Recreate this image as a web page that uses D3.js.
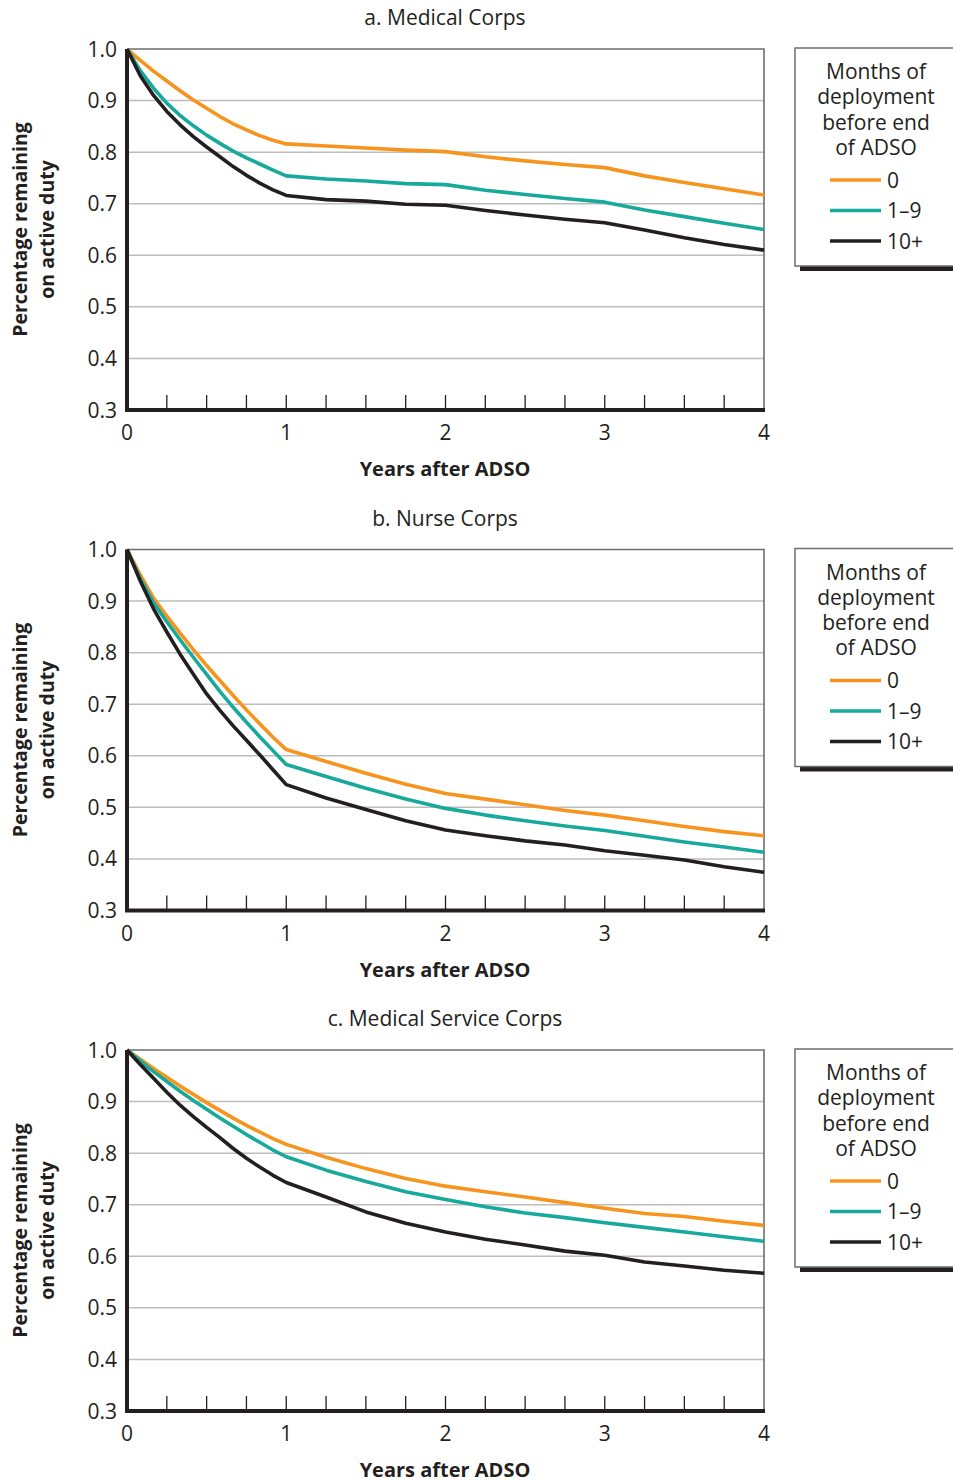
<!DOCTYPE html>
<html>
<head>
<meta charset="utf-8">
<script src="https://cdn.jsdelivr.net/npm/d3@7"></script>
<style>
  body { margin: 0; background: #fff; }
  svg { display: block; }
  text { font-family: "Open Sans", "Noto Sans", sans-serif; fill: #231F20; }
</style>
</head>
<body>
<svg id="chart" width="953" height="1482"></svg>
<script>
// ---- Data ----
// monthly through year 1, quarterly afterwards
const years = [0, 1/12, 2/12, 3/12, 4/12, 5/12, 6/12, 7/12, 8/12, 9/12, 10/12, 11/12, 1,
               1.25, 1.5, 1.75, 2, 2.25, 2.5, 2.75, 3, 3.25, 3.5, 3.75, 4];
const panelTitles = ["a. Medical Corps", "b. Nurse Corps", "c. Medical Service Corps"];
const seriesNames = ["0", "1\u20139", "10+"];
const seriesColors = ["#F7941D", "#17A99B", "#231F20"];
const yTicks = [0.3, 0.4, 0.5, 0.6, 0.7, 0.8, 0.9, 1.0];
const xTickLabels = [0, 1, 2, 3, 4];
const minorTicks = [0.25, 0.5, 0.75, 1, 1.25, 1.5, 1.75, 2, 2.25, 2.5, 2.75, 3, 3.25, 3.5, 3.75];

// Panel a: Medical Corps
const medical0   = [1.0, 0.978, 0.957, 0.938, 0.919, 0.901, 0.885, 0.869, 0.855, 0.843, 0.832, 0.823, 0.816,
                    0.812, 0.808, 0.804, 0.801, 0.791, 0.783, 0.776, 0.770, 0.754, 0.741, 0.729, 0.717];
const medical1_9 = [1.0, 0.958, 0.924, 0.895, 0.871, 0.851, 0.833, 0.817, 0.802, 0.789, 0.777, 0.765, 0.754,
                    0.748, 0.744, 0.739, 0.737, 0.726, 0.718, 0.710, 0.703, 0.688, 0.675, 0.662, 0.650];
const medical10  = [1.0, 0.948, 0.910, 0.879, 0.853, 0.830, 0.810, 0.791, 0.772, 0.755, 0.740, 0.727, 0.716,
                    0.708, 0.705, 0.699, 0.697, 0.687, 0.678, 0.670, 0.663, 0.649, 0.634, 0.621, 0.610];
// Panel b: Nurse Corps
const nurse0   = [1.0, 0.951, 0.906, 0.871, 0.838, 0.806, 0.775, 0.746, 0.717, 0.689, 0.662, 0.636, 0.612,
                  0.589, 0.566, 0.545, 0.527, 0.516, 0.505, 0.494, 0.485, 0.474, 0.463, 0.453, 0.445];
const nurse1_9 = [1.0, 0.944, 0.897, 0.860, 0.825, 0.791, 0.758, 0.725, 0.694, 0.665, 0.637, 0.610, 0.583,
                  0.560, 0.537, 0.516, 0.498, 0.485, 0.474, 0.464, 0.455, 0.444, 0.433, 0.423, 0.413];
const nurse10  = [1.0, 0.939, 0.885, 0.840, 0.797, 0.758, 0.720, 0.688, 0.658, 0.630, 0.602, 0.573, 0.544,
                  0.518, 0.496, 0.474, 0.456, 0.445, 0.435, 0.427, 0.416, 0.407, 0.398, 0.385, 0.374];
// Panel c: Medical Service Corps
const service0   = [1.0, 0.982, 0.964, 0.947, 0.930, 0.914, 0.898, 0.883, 0.868, 0.854, 0.841, 0.828, 0.817,
                    0.792, 0.770, 0.751, 0.736, 0.725, 0.715, 0.704, 0.693, 0.683, 0.677, 0.668, 0.660];
const service1_9 = [1.0, 0.979, 0.958, 0.939, 0.920, 0.902, 0.885, 0.868, 0.852, 0.836, 0.821, 0.806, 0.793,
                    0.767, 0.745, 0.725, 0.710, 0.696, 0.684, 0.675, 0.665, 0.656, 0.647, 0.638, 0.629];
const service10  = [1.0, 0.972, 0.945, 0.918, 0.893, 0.871, 0.850, 0.830, 0.809, 0.790, 0.773, 0.757, 0.743,
                    0.715, 0.686, 0.664, 0.647, 0.633, 0.622, 0.610, 0.602, 0.589, 0.581, 0.573, 0.567];

const panels = [
  [medical0, medical1_9, medical10],
  [nurse0, nurse1_9, nurse10],
  [service0, service1_9, service10]
];

// ---- Layout ----
const svg = d3.select("#chart");
const plotLeft = 127, plotRight = 764;
const panelTop0 = 49, plotH = 361, panelStep = 500.5;

const x = d3.scaleLinear().domain([0, 4]).range([plotLeft, plotRight]);

panels.forEach((series, i) => {
  const top = panelTop0 + panelStep * i;
  const bottom = top + plotH;
  const y = d3.scaleLinear().domain([0.3, 1.0]).range([bottom, top]);
  const g = svg.append("g");

  // title
  g.append("text").attr("x", 445).attr("y", top - 24)
    .attr("text-anchor", "middle").attr("font-size", 21)
    .text(panelTitles[i]);

  // gridlines
  g.append("g").selectAll("line").data(yTicks.filter(d => d > 0.3 && d < 1.0)).join("line")
    .attr("x1", plotLeft).attr("x2", plotRight)
    .attr("y1", d => y(d)).attr("y2", d => y(d))
    .attr("stroke", "#BDBDBD").attr("stroke-width", 1.5);

  // frame top & right
  g.append("path")
    .attr("d", `M${plotLeft},${y(1.0)}H${plotRight}V${bottom}`)
    .attr("fill", "none").attr("stroke", "#6D6E71").attr("stroke-width", 1.6);

  // minor ticks on x axis
  g.append("g").selectAll("line").data(minorTicks).join("line")
    .attr("x1", d => x(d)).attr("x2", d => x(d))
    .attr("y1", bottom).attr("y2", bottom - 15)
    .attr("stroke", "#231F20").attr("stroke-width", 1.3);

  // y tick labels
  g.append("g").selectAll("text").data(yTicks).join("text")
    .attr("x", 117).attr("y", d => y(d) + 7.5)
    .attr("text-anchor", "end").attr("font-size", 21)
    .text(d => d3.format(".1f")(d));

  // x tick labels
  g.append("g").selectAll("text").data(xTickLabels).join("text")
    .attr("x", d => x(d)).attr("y", bottom + 30)
    .attr("text-anchor", "middle").attr("font-size", 21)
    .text(d => d);

  // x axis title
  g.append("text").attr("x", 445).attr("y", bottom + 66)
    .attr("text-anchor", "middle").attr("font-size", 20).attr("font-weight", "bold")
    .text("Years after ADSO");

  // y axis title
  const cy = (top + bottom) / 2;
  const yt = g.append("text").attr("transform", `translate(27,${cy}) rotate(-90)`)
    .attr("text-anchor", "middle").attr("font-size", 19.5).attr("font-weight", "bold");
  yt.append("tspan").attr("x", 0).attr("dy", 0).text("Percentage remaining");
  yt.append("tspan").attr("x", 0).attr("dy", 26.5).text("on active duty");

  // lines
  const line = d3.line().x((d, k) => x(years[k])).y(d => y(d));
  series.forEach((vals, s) => {
    g.append("path").datum(vals)
      .attr("d", line)
      .attr("fill", "none").attr("stroke", seriesColors[s])
      .attr("stroke-width", 3.6).attr("stroke-linejoin", "round");
  });

  // axes (thick left & bottom)
  g.append("path")
    .attr("d", `M${plotLeft},${top}V${bottom}H${plotRight + 1}`)
    .attr("fill", "none").attr("stroke", "#231F20").attr("stroke-width", 4);

  // legend
  const lg = svg.append("g").attr("transform", `translate(795,${top - 1})`);
  lg.append("rect").attr("x", 5).attr("y", 5).attr("width", 170).attr("height", 218).attr("fill", "#231F20");
  lg.append("rect").attr("x", 0).attr("y", 0).attr("width", 170).attr("height", 218)
    .attr("fill", "#fff").attr("stroke", "#6D6E71").attr("stroke-width", 1.5);
  ["Months of", "deployment", "before end", "of ADSO"].forEach((t, k) => {
    lg.append("text").attr("x", 81).attr("y", 31 + k * 25.3)
      .attr("text-anchor", "middle").attr("font-size", 21).text(t);
  });
  seriesNames.forEach((n, s) => {
    const ly = 132 + s * 30.5;
    lg.append("line").attr("x1", 35).attr("x2", 86).attr("y1", ly).attr("y2", ly)
      .attr("stroke", seriesColors[s]).attr("stroke-width", 3.6);
    lg.append("text").attr("x", 92).attr("y", ly + 7.5).attr("font-size", 21).text(n);
  });
});
</script>
</body>
</html>
